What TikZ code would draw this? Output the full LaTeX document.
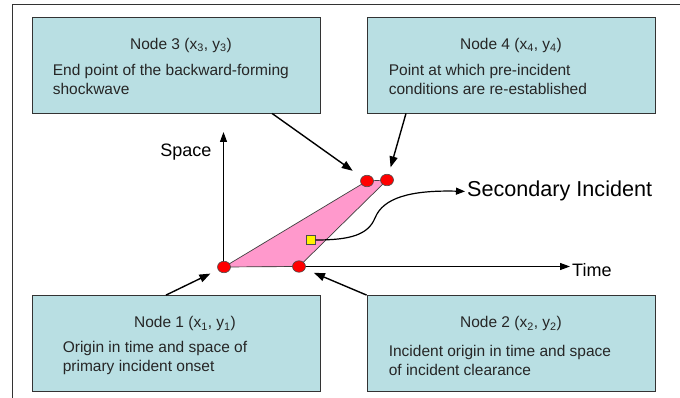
\documentclass[tikz,border=0pt]{standalone}
\usepackage{fontspec}
\setmainfont{Liberation Sans}
\usepackage{xcolor}
\usetikzlibrary{arrows.meta,positioning,backgrounds,shapes.geometric}
\definecolor{boxfill}{RGB}{185,223,227}
\definecolor{wedgepink}{RGB}{255,153,204}
\tikzset{
  infobox/.style={draw=black!80,fill=boxfill,line width=0.8pt,
                  minimum width=288pt,minimum height=96pt,inner sep=0pt},
  boxtitle/.style={inner sep=0pt,text=black!85,font=\fontsize{15.5}{19}\selectfont},
  boxtext/.style={inner sep=0pt,align=left,text=black!85,font=\fontsize{15.5}{19}\selectfont},
  point/.style={ellipse,draw=black!70,fill=red,line width=0.6pt,
                minimum width=13pt,minimum height=11.5pt,inner sep=0pt},
  axislabel/.style={inner sep=0pt,font=\fontsize{18}{20}\selectfont},
  biglabel/.style={inner sep=2pt,font=\fontsize{21.6}{24}\selectfont}
}

\begin{document}
\begin{tikzpicture}[x=1pt,y=-1pt]
          \useasboundingbox (0,0) rectangle (680,398);
          \draw[black!80,line width=0.9pt] (12,400) |- (682,4);

          \begin{scope}
              % the four corner nodes of the queue region
              \node[point] (p1) at (224,267) {};
              \node[point] (p2) at (299,266.5) {};
              \node[point] (p3) at (367,181) {};
              \node[point] (p4) at (387,180) {};
              \node[draw=black!70,fill=yellow,minimum size=9pt,inner sep=0pt] (sq) at (311,240) {};

              \coordinate (o) at (223.5,266.5);
              \coordinate (ytip) at (223.5,132);
              \coordinate (xtip) at (570,266.5);
              \node[axislabel] (space) [below left=12pt and 12pt of ytip] {Space};
              \node[axislabel] (time) [right=2pt of xtip, yshift=-3.5pt] {Time};
              \node[biglabel,anchor=west] (secinc) at (465,191.4) {Secondary Incident};

              \node[infobox] (box3) at (176,65) {};
              \node[boxtitle] (head3) [below=21pt of box3.north, xshift=5pt] {Node 3 (x\textsubscript{3}, y\textsubscript{3})};
              \node[boxtext] (body3) [below right=47.5pt and 21pt of box3.north west] {End point of the backward-forming\\shockwave};

              \node[infobox] (box4) at (511,65) {};
              \node[boxtitle] (head4) [below=21pt of box4.north] {Node 4 (x\textsubscript{4}, y\textsubscript{4})};
              \node[boxtext] (body4) [below right=47.5pt and 22pt of box4.north west] {Point at which pre-incident\\conditions are re-established};

              \node[infobox] (box1) at (176,343.5) {};
              \node[boxtitle] (head1) [below=21pt of box1.north, xshift=9pt] {Node 1 (x\textsubscript{1}, y\textsubscript{1})};
              \node[boxtext] (body1) [below right=45.5pt and 31pt of box1.north west] {Origin in time and space of\\primary incident onset};

              \node[infobox] (box2) at (511,343.5) {};
              \node[boxtitle] (head2) [below=21pt of box2.north] {Node 2 (x\textsubscript{2}, y\textsubscript{2})};
              \node[boxtext] (body2) [below right=49.5pt and 22pt of box2.north west] {Incident origin in time and space\\of incident clearance};
          \end{scope}

          \begin{scope}[on background layer]
              \draw[->,>={Triangle[length=10pt,width=7pt]},line width=1.2pt] (o) -- (ytip);
              \draw[->,>={Triangle[length=10pt,width=7pt]},line width=1.2pt] (o) -- (xtip);
              \filldraw[fill=wedgepink,draw=black!75,line width=0.7pt]
                  (p1.center) -- (p3.center) -- (p4.center) -- (p2.center) -- cycle;
          \end{scope}

          \begin{scope}[>={Triangle[length=11pt,width=8pt]},
                        every edge/.style={draw=black,line width=1.4pt}]
              \path [->] ([xshift=96pt]box3.south) edge[shorten >=11pt] (p3);
              \path [->] ([xshift=-105pt]box4.south) edge[shorten >=7pt] (p4);
              \path [->] ([xshift=-10pt]box1.north) edge[shorten >=8.5pt] (p1);
              \path [->] (box2.north west) edge[shorten >=9.5pt] (p2);
          \end{scope}

          \draw[->,>={Triangle[length=9pt,width=7pt]},line width=1.2pt]
              (sq.east) .. controls (350,240) and (368,235) .. (375,218)
                        .. controls (383,198) and (410,190) .. (secinc.west);
\end{tikzpicture}
\end{document}
